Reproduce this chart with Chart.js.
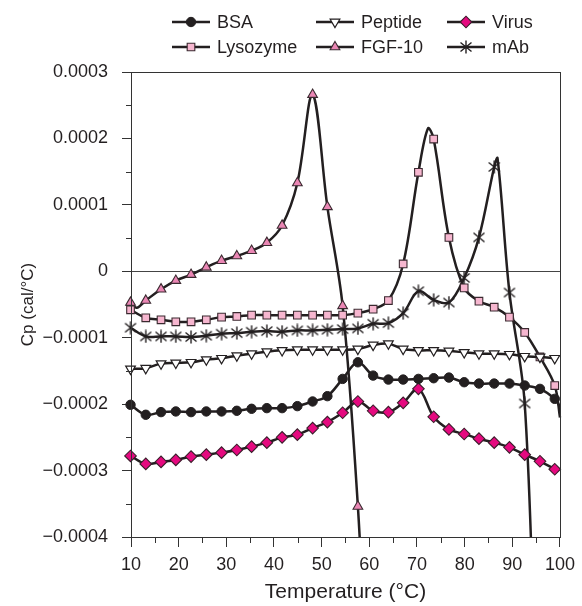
<!DOCTYPE html>
<html><head><meta charset="utf-8">
<script src="https://cdn.jsdelivr.net/npm/chart.js@4.4.1/dist/chart.umd.min.js"></script>
<style>html,body{margin:0;padding:0;background:#fff;}</style>
</head><body>
<canvas id="c" width="582" height="606" style="width:582px;height:606px;display:block"></canvas>
<script>
// ---- DATA (Cp in cal/°C) ----
const temperatures = [9.9,13.1,16.3,19.4,22.6,25.8,29.0,32.2,35.3,38.5,41.7,44.9,48.1,51.2,54.4,57.6,60.8,64.0,67.1,70.3,73.5,76.7,79.9,83.0,86.2,89.4,92.6,95.8,98.9];
const seriesNames = ["BSA","Peptide","Virus","Lysozyme","FGF-10","mAb"];
const bsa      = [-2.01e-4,-2.16e-4,-2.12e-4,-2.11e-4,-2.12e-4,-2.11e-4,-2.11e-4,-2.10e-4,-2.07e-4,-2.06e-4,-2.06e-4,-2.03e-4,-1.96e-4,-1.88e-4,-1.62e-4,-1.37e-4,-1.57e-4,-1.63e-4,-1.63e-4,-1.62e-4,-1.61e-4,-1.60e-4,-1.67e-4,-1.69e-4,-1.69e-4,-1.69e-4,-1.72e-4,-1.77e-4,-1.92e-4];
const peptide  = [-1.47e-4,-1.46e-4,-1.39e-4,-1.38e-4,-1.37e-4,-1.33e-4,-1.31e-4,-1.27e-4,-1.24e-4,-1.21e-4,-1.19e-4,-1.18e-4,-1.18e-4,-1.18e-4,-1.18e-4,-1.17e-4,-1.11e-4,-1.09e-4,-1.17e-4,-1.19e-4,-1.19e-4,-1.20e-4,-1.22e-4,-1.24e-4,-1.24e-4,-1.25e-4,-1.28e-4,-1.29e-4,-1.31e-4];
const virus    = [-2.78e-4,-2.90e-4,-2.87e-4,-2.84e-4,-2.79e-4,-2.76e-4,-2.73e-4,-2.69e-4,-2.64e-4,-2.58e-4,-2.50e-4,-2.46e-4,-2.36e-4,-2.27e-4,-2.13e-4,-1.96e-4,-2.10e-4,-2.12e-4,-1.98e-4,-1.77e-4,-2.19e-4,-2.38e-4,-2.45e-4,-2.52e-4,-2.58e-4,-2.65e-4,-2.76e-4,-2.86e-4,-2.98e-4];
const lysozyme = [-0.58e-4,-0.70e-4,-0.73e-4,-0.76e-4,-0.76e-4,-0.73e-4,-0.69e-4,-0.68e-4,-0.66e-4,-0.66e-4,-0.66e-4,-0.66e-4,-0.66e-4,-0.66e-4,-0.66e-4,-0.63e-4,-0.57e-4,-0.44e-4,0.11e-4,1.49e-4,1.99e-4,0.51e-4,-0.25e-4,-0.45e-4,-0.54e-4,-0.69e-4,-0.92e-4,-1.29e-4,-1.72e-4];
const fgf10    = [-0.47e-4,-0.44e-4,-0.27e-4,-0.14e-4,-0.05e-4,0.06e-4,0.16e-4,0.23e-4,0.31e-4,0.43e-4,0.69e-4,1.33e-4,2.66e-4,0.97e-4,-0.52e-4,-3.54e-4];
const mab      = [-0.85e-4,-0.98e-4,-0.98e-4,-0.98e-4,-0.99e-4,-0.97e-4,-0.94e-4,-0.93e-4,-0.91e-4,-0.90e-4,-0.91e-4,-0.89e-4,-0.89e-4,-0.88e-4,-0.87e-4,-0.86e-4,-0.79e-4,-0.78e-4,-0.63e-4,-0.30e-4,-0.43e-4,-0.47e-4,-0.10e-4,0.51e-4,1.57e-4,-0.32e-4,-1.99e-4];
// curve points between markers (no marker drawn)
const bsaCurveT = [100];      const bsaCurveV = [-2.04e-4];
const lysoCurveT = [72.3,100]; const lysoCurveV = [2.15e-4,-2.2e-4];
const fgfCurveT = [11.2,59.5]; const fgfCurveV = [-0.55e-4,-6.3e-4];
const mabCurveT = [86.9,95.0]; const mabCurveV = [1.70e-4,-6.5e-4];
const xTicks = [10,20,30,40,50,60,70,80,90,100];
const yTicks = [0.0003,0.0002,0.0001,0,-0.0001,-0.0002,-0.0003,-0.0004];

// ---- STYLE ----
const LINE = '#231f20';
const FONT = "'Liberation Sans', Arial, Helvetica, sans-serif";

function makeAsterisk(){
  const s = 14, c = document.createElement('canvas');
  c.width = s; c.height = s;
  const g = c.getContext('2d');
  g.strokeStyle = '#231f20'; g.lineWidth = 1.4; g.lineCap = 'butt';
  g.beginPath();
  g.moveTo(7,0.5); g.lineTo(7,13.5);
  g.moveTo(1.5,2.5); g.lineTo(12.5,11.5);
  g.moveTo(1.5,11.5); g.lineTo(12.5,2.5);
  g.stroke();
  return c;
}
const asterisk = makeAsterisk();

function build(vals, curveT, curveV){
  const pts = vals.map((v,i)=>({x:temperatures[i], y:v, m:1}));
  (curveT||[]).forEach((t,i)=>pts.push({x:t, y:curveV[i], m:0}));
  pts.sort((a,b)=>a.x-b.x);
  return pts;
}
function ds(label, pts, st){
  return {
    label, data: pts,
    borderColor: LINE, borderWidth: 2.5, tension: 0.35,
    pointStyle: st.style, rotation: st.rot||0,
    pointRadius: c => (c.raw && c.raw.m) ? st.r : 0,
    pointBackgroundColor: st.fill, pointBorderColor: st.border, pointBorderWidth: st.bw,
    clip: {left: 9, right: 9, top: 9, bottom: 0},
    _st: st
  };
}
const styles = {
  BSA:      {style:'circle',   r:4.7, fill:'#231f20', border:'#231f20', bw:1},
  Peptide:  {style:'triangle', r:5.6, rot:180, fill:'#ffffff', border:'#231f20', bw:1.2},
  Virus:    {style:'rectRot',  r:5.8, fill:'#e5097f', border:'#3b1d2b', bw:1.1},
  Lysozyme: {style:'rect',     r:5.4, fill:'#f6b6cf', border:'#3b2a30', bw:1.1},
  FGF:      {style:'triangle', r:5.6, fill:'#ea86b4', border:'#3b2a30', bw:1.1},
  mAb:      {style:asterisk,   r:6,   fill:'#231f20', border:'#231f20', bw:1}
};
const datasets = [
  ds(seriesNames[0], build(bsa, bsaCurveT, bsaCurveV), styles.BSA),
  ds(seriesNames[1], build(peptide), styles.Peptide),
  ds(seriesNames[2], build(virus), styles.Virus),
  ds(seriesNames[3], build(lysozyme, lysoCurveT, lysoCurveV), styles.Lysozyme),
  ds(seriesNames[4], build(fgf10, fgfCurveT, fgfCurveV), styles.FGF),
  ds(seriesNames[5], build(mab, mabCurveT, mabCurveV), styles.mAb)
];

// custom legend laid out in a 3x2 grid
const legendGrid = {
  id:'legendGrid',
  afterDraw(chart, args, opts){
    const ctx = chart.ctx;
    ctx.save();
    chart.data.datasets.forEach((d,i)=>{
      const pos = opts.cells[i];
      const st = d._st;
      ctx.strokeStyle = LINE; ctx.lineWidth = 2.5;
      ctx.beginPath(); ctx.moveTo(pos[0], pos[1]); ctx.lineTo(pos[0]+opts.lineLen, pos[1]); ctx.stroke();
      ctx.fillStyle = st.fill; ctx.strokeStyle = st.border; ctx.lineWidth = st.bw;
      Chart.helpers.drawPoint(ctx, {pointStyle: st.style, rotation: st.rot||0, radius: st.r, borderWidth: st.bw}, pos[0]+opts.lineLen/2, pos[1]);
      ctx.fillStyle = '#231f20';
      ctx.font = opts.font; ctx.textBaseline = 'middle'; ctx.textAlign = 'left';
      ctx.fillText(d.label, pos[0]+opts.lineLen+7, pos[1]+1);
    });
    ctx.restore();
  }
};

// frame and minor ticks
const frame = {
  id:'frame',
  afterDatasetsDraw(chart){
    const {ctx, chartArea:a, scales:{x,y}} = chart;
    ctx.save();
    ctx.strokeStyle = '#333'; ctx.lineWidth = 1;
    ctx.strokeRect(Math.round(a.left)+0.5, Math.round(a.top)+0.5, Math.round(a.right-a.left), Math.round(a.bottom-a.top));
    ctx.beginPath();
    for (let i=0;i<yTicks.length-1;i++){
      const v = (yTicks[i]+yTicks[i+1])/2;
      const py = Math.round(y.getPixelForValue(v))+0.5;
      ctx.moveTo(a.left-5, py); ctx.lineTo(a.left, py);
    }
    for (let i=0;i<xTicks.length-1;i++){
      const v = (xTicks[i]+xTicks[i+1])/2;
      const px = Math.round(x.getPixelForValue(v))+0.5;
      ctx.moveTo(px, a.bottom); ctx.lineTo(px, a.bottom+6);
    }
    ctx.stroke();
    ctx.restore();
  }
};

Chart.defaults.font.family = FONT;
Chart.defaults.color = '#231f20';

new Chart(document.getElementById('c'), {
  type:'line',
  data:{datasets},
  options:{
    responsive:false, animation:false, devicePixelRatio:1,
    layout:{padding:{top:72, right:19, bottom:0, left:0}},
    plugins:{
      legend:{display:false}, tooltip:{enabled:false},
      legendGrid:{cells:[[172,22],[316,22],[447,22],[172,47],[316,47],[447,47]], lineLen:38, font:"18px "+FONT}
    },
    scales:{
      x:{
        type:'linear', min:10, max:100,
        afterFit: s => { s.height = 69; },
        afterBuildTicks: s => { s.ticks = xTicks.map(v=>({value:v})); },
        ticks:{font:{size:18}, padding:7, maxRotation:0, color:'#231f20'},
        grid:{drawOnChartArea:false, tickLength:10, tickColor:'#333', color:'#333'},
        border:{display:true, color:'#333'},
        title:{display:true, text:'Temperature (°C)', font:{size:21}, padding:{top:0,bottom:1}, color:'#231f20'}
      },
      y:{
        type:'linear', min:-0.0004, max:0.0003,
        afterFit: s => { s.width = 131; },
        afterBuildTicks: s => { s.ticks = yTicks.map(v=>({value:v})); },
        ticks:{font:{size:18}, padding:14, color:'#231f20',
          callback: v => Math.abs(v) < 1e-12 ? '0' : (v<0 ? '\u2212' : '') + Math.abs(v).toFixed(4)},
        grid:{drawOnChartArea:true, tickLength:9, tickColor:'#333',
          color: c => (c.tick && Math.abs(c.tick.value) < 1e-12) ? '#444' : 'rgba(0,0,0,0)'},
        border:{display:true, color:'#333'},
        title:{display:true, text:'Cp (cal/°C)', font:{size:17}, padding:{top:18,bottom:0}, color:'#231f20'}
      }
    }
  },
  plugins:[frame, legendGrid]
});
</script>
</body></html>
